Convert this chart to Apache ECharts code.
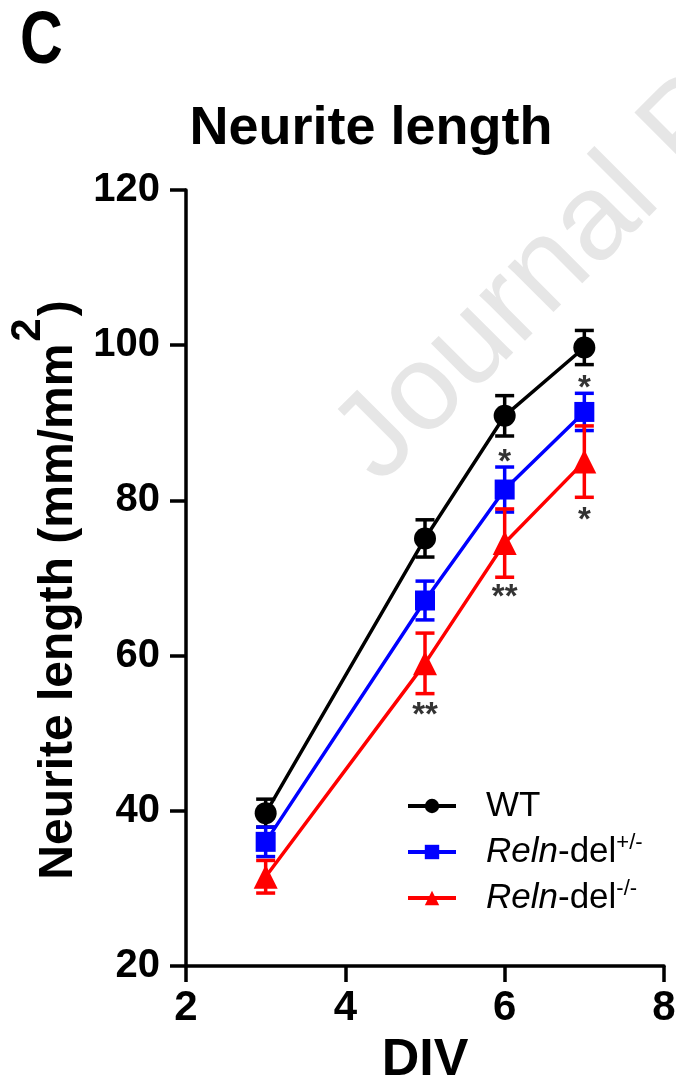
<!DOCTYPE html>
<html>
<head>
<meta charset="utf-8">
<script src="https://cdn.jsdelivr.net/npm/echarts@6/dist/echarts.min.js"></script>
<style>
  html, body { margin: 0; padding: 0; background: #fff; }
  #main { width: 676px; height: 1086px; }
</style>
</head>
<body>
<div id="main"></div>
<script>
// days in vitro
const days = [3, 5, 6, 7]
const wtMean = [39.7, 75.1, 90.9, 99.7]
const wtSem = [1.8, 2.4, 2.6, 2.2]
const hetMean = [36.0, 67.1, 81.4, 91.4]
const hetSem = [1.9, 2.5, 2.9, 2.4]
const koMean = [31.5, 59.0, 74.5, 85.0]
const koSem = [2.1, 3.9, 4.4, 4.6]
// significance marks
const starX = [6, 7, 5, 6, 7]
const starY = [85.6, 95.1, 53.0, 68.2, 78.1]
const starText = ['*', '*', '**', '**', '*']
const yTicks = [20, 40, 60, 80, 100, 120]

const FONT = 'Liberation Sans, Arial, sans-serif'
const chartDom = document.getElementById('main')
const myChart = echarts.init(chartDom)

const errBars = (name, mean, sem, color) => ({
  name: name + ' sem',
  type: 'custom',
  z: 3,
  silent: true,
  data: days.map((d, i) => [d, mean[i] - sem[i], mean[i] + sem[i]]),
  renderItem: (params, api) => {
    const lo = api.coord([api.value(0), api.value(1)])
    const hi = api.coord([api.value(0), api.value(2)])
    const w = 9.5
    const style = { stroke: color, lineWidth: 3.5 }
    return {
      type: 'group',
      children: [
        { type: 'line', shape: { x1: lo[0], y1: lo[1], x2: hi[0], y2: hi[1] }, style },
        { type: 'line', shape: { x1: lo[0] - w, y1: lo[1], x2: lo[0] + w, y2: lo[1] }, style },
        { type: 'line', shape: { x1: hi[0] - w, y1: hi[1], x2: hi[0] + w, y2: hi[1] }, style },
      ],
    }
  },
})

const lineSeries = (name, mean, color, symbol, size) => ({
  name: name,
  type: 'line',
  z: 4,
  data: days.map((d, i) => [d, mean[i]]),
  symbol: symbol,
  symbolSize: size,
  showAllSymbol: true,
  lineStyle: { color: color, width: 3.5 },
  itemStyle: { color: color },
})

const option = {
  animation: false,
  backgroundColor: '#fff',
  graphic: [
    {
      type: 'text', x: 20, y: 43, scaleX: 0.8, z: 10,
      style: { text: 'C', font: 'bold 74px ' + FONT, fill: '#000', verticalAlign: 'middle' },
    },
    {
      type: 'text', x: 356, y: 462, rotation: Math.PI / 4, z: 0, silent: true,
      style: { text: 'Journal Pre-proof', font: '122px ' + FONT, fill: '#e6e6e6', verticalAlign: 'middle' },
    },
  ],
  title: {
    text: 'Neurite length',
    left: 371,
    top: 102,
    padding: 0,
    textAlign: 'center',
    textStyle: { fontSize: 54, fontWeight: 'bold', fontFamily: FONT, color: '#000' },
  },
  legend: {
    orient: 'vertical',
    left: 406,
    top: 785,
    itemWidth: 48,
    itemHeight: 18,
    itemGap: 4,
    padding: 0,
    lineStyle: { width: 4 },
    data: ['WT', 'Reln-del+/-', 'Reln-del-/-'],
    formatter: (n) => n === 'WT' ? 'WT' : '{i|Reln}-del{s|' + n.slice(8) + '}',
    textStyle: {
      fontSize: 35, fontFamily: FONT, color: '#000', padding: [0, 0, 0, 25], lineHeight: 42,
      rich: {
        i: { fontSize: 35, fontStyle: 'italic', fontFamily: FONT, color: '#000', lineHeight: 42 },
        s: { fontSize: 22, fontFamily: FONT, color: '#000', padding: [0, 0, 18, 0] },
      },
    },
  },
  grid: { left: 186, right: 12, top: 190, bottom: 120, containLabel: false, outerBoundsMode: 'none' },
  xAxis: {
    type: 'value',
    min: 2, max: 8, interval: 2,
    name: 'DIV',
    nameLocation: 'middle',
    nameGap: 69,
    nameTextStyle: { fontSize: 52, fontWeight: 'bold', fontFamily: FONT, color: '#000' },
    axisLine: { lineStyle: { color: '#000', width: 3.5 } },
    axisTick: { length: 16, lineStyle: { color: '#000', width: 3.5 } },
    axisLabel: { fontSize: 42, fontWeight: 'bold', fontFamily: FONT, color: '#000', margin: 21 },
    splitLine: { show: false },
  },
  yAxis: {
    type: 'value',
    min: yTicks[0], max: yTicks[yTicks.length - 1], interval: 20,
    name: 'Neurite length (mm/mm{s|2})',
    nameLocation: 'middle',
    nameRotate: 90,
    nameGap: 68,
    nameTextStyle: {
      fontSize: 48, fontWeight: 'bold', fontFamily: FONT, color: '#000', padding: [0, 24, 0, 0],
      rich: { s: { fontSize: 42, fontWeight: 'bold', fontFamily: FONT, color: '#000', padding: [0, 2, 60, 2] } },
    },
    axisLine: { lineStyle: { color: '#000', width: 3.5 } },
    axisTick: { length: 16, lineStyle: { color: '#000', width: 3.5 } },
    axisLabel: { fontSize: 40, fontWeight: 'bold', fontFamily: FONT, color: '#000', margin: 26 },
    splitLine: { show: false },
  },
  series: [
    errBars('WT', wtMean, wtSem, '#000'),
    errBars('Reln-del+/-', hetMean, hetSem, '#0000ff'),
    errBars('Reln-del-/-', koMean, koSem, '#ff0000'),
    lineSeries('WT', wtMean, '#000', 'circle', 22),
    lineSeries('Reln-del+/-', hetMean, '#0000ff', 'rect', 20),
    lineSeries('Reln-del-/-', koMean, '#ff0000', 'triangle', 24),
    {
      type: 'scatter',
      z: 5,
      silent: true,
      symbolSize: 1,
      itemStyle: { color: 'transparent' },
      data: starX.map((x, i) => ({ value: [x, starY[i]], label: { formatter: starText[i] } })),
      label: {
        show: true, position: 'inside', offset: [0, 6],
        fontSize: 33, fontWeight: 'bold', fontFamily: FONT, color: '#000',
      },
    },
  ],
}
option && myChart.setOption(option)
</script>
</body>
</html>
